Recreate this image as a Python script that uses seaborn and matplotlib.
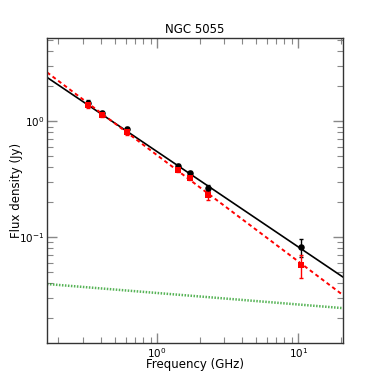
import numpy as np
import pandas as pd
import seaborn as sns
import matplotlib.pyplot as plt

# observed flux densities
freq = [0.325, 0.408, 0.61, 1.4, 1.7, 2.3, 10.55]
flux_total = [1.43, 1.17, 0.85, 0.41, 0.356, 0.264, 0.082]
err_total = [0.08, 0.05, 0.04, 0.015, 0.015, 0.015, 0.014]
flux_nonth = [1.37, 1.13, 0.80, 0.378, 0.323, 0.23, 0.057]
err_nonth = [0.08, 0.05, 0.04, 0.015, 0.015, 0.02, 0.013]

# fitted power laws, read at the plot edges
fit_freq = [0.166, 20.8]
fit_total = [2.39, 0.0452]
fit_nonth = [2.64, 0.0316]
fit_therm = [0.0394, 0.0244]

sns.set_style("ticks", {"text.color": "black", "axes.labelcolor": "black",
                        "xtick.color": "black", "ytick.color": "black"})
fig = plt.figure(figsize=(3.82, 3.82), dpi=100)
ax = fig.add_axes([0.123, 0.102, 0.775, 0.798])

sns.lineplot(x=fit_freq, y=fit_total, color="black", lw=1.2, ax=ax)
sns.lineplot(x=fit_freq, y=fit_nonth, color="red", lw=1.4, ls=(0, (2, 1.6)), ax=ax)
sns.lineplot(x=fit_freq, y=fit_therm, color="#2ca02c", lw=1.8, ls=(0, (0.6, 0.6)), alpha=0.8, ax=ax)

ax.errorbar(freq, flux_total, yerr=err_total, fmt="none", ecolor="black", elinewidth=1, capsize=1.5)
ax.errorbar(freq, flux_nonth, yerr=err_nonth, fmt="none", ecolor="red", elinewidth=1, capsize=1.5)
sns.scatterplot(x=freq, y=flux_total, color="black", marker="o", s=22, edgecolor="black", linewidth=0, ax=ax, zorder=3)
sns.scatterplot(x=freq, y=flux_nonth, color="red", marker="s", s=24, edgecolor="red", linewidth=0, ax=ax, zorder=3)

ax.set_xscale("log")
ax.set_yscale("log")
ax.set_xlim(0.166, 20.8)
ax.set_ylim(0.0122, 5.2)

ax.tick_params(which="both", direction="in", top=True, right=True, color="#888888",
               labelcolor="black", labelsize=7.5, pad=2)
ax.tick_params(which="major", length=7, width=1)
ax.tick_params(which="minor", length=4, width=0.8)
for s in ax.spines.values():
    s.set_color("#333333")
    s.set_linewidth(1)

ax.set_title("NGC 5055", fontsize=8.5, pad=4)
ax.set_xlabel("Frequency (GHz)", fontsize=8.5)
ax.set_ylabel("Flux density (Jy)", fontsize=8.5)
ax.xaxis.set_label_coords(0.5, -0.05)
ax.yaxis.set_label_coords(-0.08, 0.5)

fig.savefig("out.png", dpi=100)
